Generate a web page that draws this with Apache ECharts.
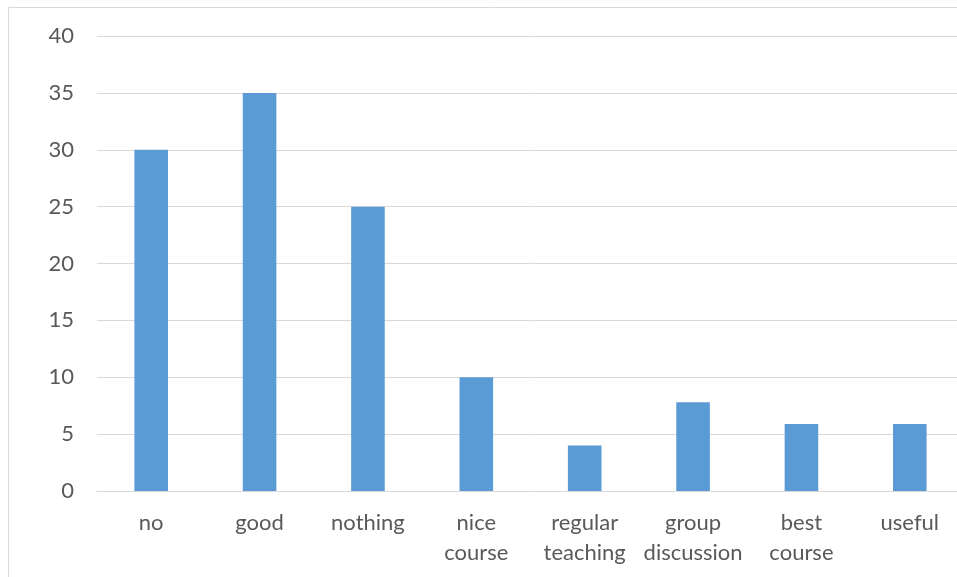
<!DOCTYPE html>
<html>
<head>
<meta charset="utf-8">
<script src="https://cdn.jsdelivr.net/npm/echarts@6/dist/echarts.min.js"></script>
<style>
  html, body { margin: 0; padding: 0; background: #ffffff; overflow: hidden; }
  /* canvas is a little wider than the window so the plot area runs past the right edge */
  #chart { width: 970px; height: 577px; }
</style>
</head>
<body>
<div id="chart"></div>
<script>
// Response categories and their counts
const categories = ['no', 'good', 'nothing', 'nice course', 'regular teaching', 'group discussion', 'best course', 'useful'];
const counts = [30, 35, 25, 10, 4, 7.8, 5.9, 5.9];
const yTicks = { min: 0, max: 40, interval: 5 };

const textColor = '#595959';
const gridColor = '#d9d9d9';
const fontFamily = 'Lato, "Open Sans", sans-serif';

const chart = echarts.init(document.getElementById('chart'), null, { renderer: 'canvas' });

chart.setOption({
  animation: false,
  backgroundColor: '#ffffff',
  graphic: [{
    type: 'rect',
    shape: { x: 8.5, y: 7.5, width: 1000, height: 1000 },
    style: { fill: 'none', stroke: gridColor, lineWidth: 1 },
    silent: true
  }],
  grid: { left: 97, top: 36, width: 867, height: 455, containLabel: false },
  xAxis: {
    type: 'category',
    data: categories,
    axisLine: { show: true, lineStyle: { color: gridColor, width: 1 } },
    axisTick: { show: false },
    axisLabel: {
      color: textColor,
      fontFamily: fontFamily,
      fontSize: 22,
      lineHeight: 30,
      margin: 17,
      interval: 0,
      formatter: v => v.replace(' ', '\n')
    }
  },
  yAxis: {
    type: 'value',
    min: yTicks.min, max: yTicks.max, interval: yTicks.interval,
    axisLine: { show: false },
    axisTick: { show: false },
    splitLine: { lineStyle: { color: gridColor, width: 1 } },
    axisLabel: { color: textColor, fontFamily: fontFamily, fontSize: 22, margin: 23 }
  },
  series: [{
    type: 'bar',
    data: counts,
    barWidth: '31%',
    itemStyle: { color: '#5b9bd5' }
  }]
});
</script>
</body>
</html>
